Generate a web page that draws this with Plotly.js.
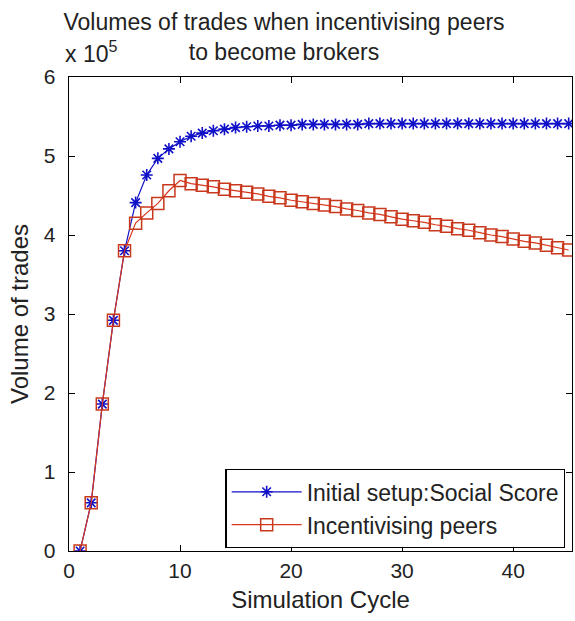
<!DOCTYPE html>
<html>
<head>
<meta charset="utf-8">
<script src="https://cdn.plot.ly/plotly-3.0.1.min.js"></script>
<style>html,body{margin:0;padding:0;background:#fff;}#chart{width:575px;height:621px;}</style>
</head>
<body>
<div id="chart"></div>
<script>
// Simulation cycles
const cycles = [1,2,3,4,5,6,7,8,9,10,11,12,13,14,15,16,17,18,19,20,21,22,23,24,25,26,27,28,29,30,31,32,33,34,35,36,37,38,39,40,41,42,43,44,45];
// Volume of trades (x 10^5) - Initial setup: Social Score
const socialScore = [0,0.61,1.86,2.92,3.80,4.41,4.76,4.97,5.09,5.18,
  5.25,5.29,5.32,5.34,5.36,5.37,5.38,5.38,5.39,5.39,
  5.40,5.40,5.40,5.40,5.40,5.40,5.41,5.41,5.41,5.41,
  5.41,5.41,5.41,5.41,5.41,5.41,5.41,5.41,5.41,5.41,
  5.41,5.41,5.41,5.41,5.41];
// Volume of trades (x 10^5) - Incentivising peers
const incentivising = [0,0.61,1.86,2.92,3.80,4.15,4.28,4.40,4.56,4.69,
  4.65,4.63,4.61,4.58,4.56,4.54,4.52,4.49,4.47,4.44,
  4.42,4.40,4.38,4.36,4.33,4.31,4.28,4.26,4.23,4.20,
  4.18,4.16,4.13,4.11,4.08,4.06,4.03,4.00,3.98,3.95,
  3.92,3.90,3.87,3.84,3.81];
const seriesNames = ['Initial setup:Social Score', 'Incentivising peers'];
const xTicks = [0,10,20,30,40];
const yTicks = [0,1,2,3,4,5,6];

const FONT = 'Liberation Sans, Arial, sans-serif';
const TXT = '#222';
const traces = [
  {x: cycles, y: socialScore, name: seriesNames[0], type: 'scatter', mode: 'lines+markers',
   line: {color: '#1010c8', width: 1.2},
   marker: {symbol: 'asterisk-open', size: 10, color: '#1010c8', line: {color: '#1010c8', width: 1.6}}},
  {x: cycles, y: incentivising, name: seriesNames[1], type: 'scatter', mode: 'lines+markers',
   line: {color: '#d8361c', width: 1.2},
   marker: {symbol: 'square-open', size: 12, color: '#c8381c', line: {color: '#c8381c', width: 1.5}}}
];
const axisCommon = {
  showgrid: false, zeroline: false, showline: true, linecolor: '#000', linewidth: 1.3,
  mirror: 'ticks', ticks: 'inside', ticklen: 6, tickcolor: '#000', tickwidth: 1,
  tickfont: {family: FONT, size: 21, color: TXT}
};
const layout = {
  width: 575, height: 621,
  margin: {l: 69, r: 3, t: 77, b: 70},
  paper_bgcolor: '#fff', plot_bgcolor: '#fff',
  showlegend: true,
  title: {text: 'Volumes of trades when incentivising peers<br>to become brokers',
          font: {family: FONT, size: 23, color: TXT},
          x: 0.494, xanchor: 'center', xref: 'container',
          y: 1, yanchor: 'bottom', yref: 'paper', pad: {b: 47}},
  xaxis: Object.assign({}, axisCommon, {
    range: [0, 45.3], tickvals: xTicks, ticktext: xTicks.map(String),
    title: {text: 'Simulation Cycle', font: {family: FONT, size: 24, color: TXT}, standoff: 10}
  }),
  yaxis: Object.assign({}, axisCommon, {
    range: [0, 6], tickvals: yTicks, ticktext: yTicks.map(String), ticklabelstandoff: 8,
    title: {text: 'Volume of trades', font: {family: FONT, size: 24, color: TXT}, standoff: 8}
  }),
  legend: {
    x: 0.987, xanchor: 'right', y: 0.006, yanchor: 'bottom',
    bgcolor: '#fff', bordercolor: '#000', borderwidth: 1.2,
    font: {family: FONT, size: 23, color: TXT},
    itemwidth: 70, tracegroupgap: 0
  },
  annotations: [
    {text: 'x 10<sup>5</sup>', xref: 'paper', yref: 'paper', x: 0, y: 1, xanchor: 'left', yanchor: 'bottom',
     xshift: -6, yshift: 8, showarrow: false, font: {family: FONT, size: 23, color: TXT}}
  ]
};
Plotly.newPlot('chart', traces, layout, {displayModeBar: false, staticPlot: true});
</script>
</body>
</html>
